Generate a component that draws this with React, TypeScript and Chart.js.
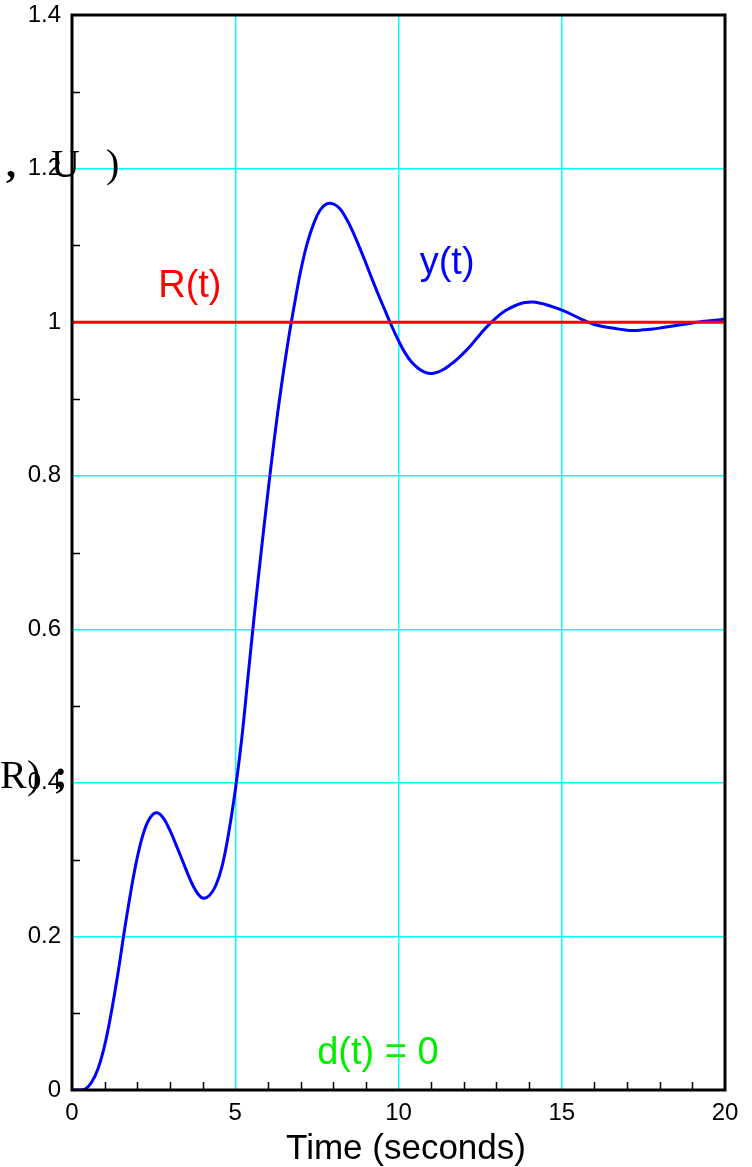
import React, { useEffect, useRef } from "react";
import { Chart, registerables } from "chart.js";

Chart.register(...registerables);

// ---- data ----
const timeSeconds = [0, 0.2, 0.4, 0.6, 0.8, 1.0, 1.2, 1.4, 1.6, 1.8, 2.0, 2.2, 2.4, 2.6, 2.8, 3.0, 3.2, 3.4, 3.6, 3.8, 4.0, 4.2, 4.4, 4.6, 4.8, 5.0, 5.2, 5.4, 5.6, 5.8, 6.0, 6.2, 6.4, 6.6, 6.8, 7.0, 7.2, 7.4, 7.6, 7.8, 8.0, 8.2, 8.4, 8.6, 8.8, 9.0, 9.2, 9.4, 9.6, 9.8, 10.0, 10.2, 10.4, 10.6, 10.8, 11.0, 11.2, 11.4, 11.6, 11.8, 12.0, 12.2, 12.4, 12.6, 12.8, 13.0, 13.2, 13.4, 13.6, 13.8, 14.0, 14.2, 14.5, 14.8, 15.1, 15.4, 15.7, 16.0, 16.3, 16.6, 16.9, 17.2, 17.5, 17.8, 18.1, 18.4, 18.7, 19.0, 19.3, 19.6, 20.0];
const outputY = [0, 0, 0.001, 0.01, 0.028, 0.058, 0.1, 0.15, 0.206, 0.258, 0.303, 0.336, 0.355, 0.361, 0.354, 0.338, 0.318, 0.297, 0.276, 0.259, 0.25, 0.253, 0.266, 0.292, 0.335, 0.39, 0.458, 0.542, 0.625, 0.703, 0.778, 0.849, 0.913, 0.97, 1.02, 1.066, 1.102, 1.128, 1.146, 1.154, 1.154, 1.148, 1.135, 1.118, 1.098, 1.077, 1.055, 1.034, 1.014, 0.994, 0.976, 0.96, 0.948, 0.94, 0.935, 0.933, 0.935, 0.939, 0.945, 0.952, 0.96, 0.969, 0.979, 0.989, 0.998, 1.006, 1.013, 1.018, 1.022, 1.025, 1.026, 1.026, 1.023, 1.019, 1.014, 1.008, 1.002, 0.997, 0.994, 0.992, 0.99, 0.989, 0.99, 0.991, 0.993, 0.995, 0.997, 0.999, 1.001, 1.002, 1.004];
const refTimes = [0, 20];
const refValues = [1, 1];
const distTimes = [0, 20];
const distValues = [0, 0];

const xMajorTicks = [0, 5, 10, 15, 20];
const yMajorTicks = [0, 0.2, 0.4, 0.6, 0.8, 1, 1.2, 1.4];
const xMinorTicks = [1, 2, 3, 4, 6, 7, 8, 9, 11, 12, 13, 14, 16, 17, 18, 19];
const yMinorTicks = [0.1, 0.3, 0.5, 0.7, 0.9, 1.1, 1.3];

const xTitle = "Time (seconds)";

const annotations = [
  { text: "R(t)", t: 3.61, v: 1.046, color: "#ff0000" },
  { text: "y(t)", t: 11.49, v: 1.076, color: "#0000ff" },
  { text: "d(t) = 0", t: 9.37, v: 0.048, color: "#00ee00" },
];

const strayGlyphs = [
  { text: ",", x: 6, y: 177, bold: true },
  { text: "U", x: 51, y: 177, bold: false },
  { text: ")", x: 106, y: 177, bold: false },
  { text: "R", x: 0, y: 788, bold: false },
  { text: ")", x: 27, y: 788, bold: false },
  { text: ";", x: 54, y: 788, bold: true },
];

const SANS = "'Liberation Sans', Arial, sans-serif";
const SERIF = "'Liberation Serif', 'Times New Roman', serif";
const GRID = "#00ffff";

const extrasPlugin = {
  id: "extras",
  afterDatasetsDraw(chart: any) {
    const { ctx, chartArea, scales } = chart;
    const xs = scales.x;
    const ys = scales.y;
    ctx.save();
    // minor ticks
    ctx.strokeStyle = "#000";
    ctx.lineWidth = 1.5;
    ctx.beginPath();
    xMinorTicks.forEach((t) => {
      const px = Math.round(xs.getPixelForValue(t)) + 0.5;
      ctx.moveTo(px, chartArea.bottom);
      ctx.lineTo(px, chartArea.bottom - 8);
    });
    yMinorTicks.forEach((v) => {
      const py = Math.round(ys.getPixelForValue(v)) + 0.5;
      ctx.moveTo(chartArea.left, py);
      ctx.lineTo(chartArea.left + 8, py);
    });
    ctx.stroke();
    // frame
    ctx.lineWidth = 3;
    ctx.strokeRect(chartArea.left, chartArea.top, chartArea.right - chartArea.left, chartArea.bottom - chartArea.top);
    // annotations
    ctx.font = `38px ${SANS}`;
    ctx.textAlign = "center";
    ctx.textBaseline = "middle";
    annotations.forEach((a) => {
      ctx.fillStyle = a.color;
      ctx.fillText(a.text, xs.getPixelForValue(a.t), ys.getPixelForValue(a.v));
    });
    // axis title
    ctx.fillStyle = "#000";
    ctx.font = `35px ${SANS}`;
    ctx.fillText(xTitle, 406, 1149);
    // stray glyphs
    ctx.textAlign = "left";
    ctx.textBaseline = "alphabetic";
    strayGlyphs.forEach((g) => {
      ctx.font = `${g.bold ? "bold " : ""}40px ${SERIF}`;
      ctx.fillText(g.text, g.x, g.y);
    });
    ctx.restore();
  },
};

export default function App() {
  const ref = useRef<HTMLCanvasElement | null>(null);
  useEffect(() => {
    if (!ref.current) return;
    const chart = new Chart(ref.current, {
      type: "line",
      data: {
        datasets: [
          {
            label: "R(t)",
            data: refTimes.map((t, i) => ({ x: t, y: refValues[i] })),
            borderColor: "#ff0000",
            borderWidth: 3,
            pointRadius: 0,
          },
          {
            label: "y(t)",
            data: timeSeconds.map((t, i) => ({ x: t, y: outputY[i] })),
            borderColor: "#0000ff",
            borderWidth: 3,
            pointRadius: 0,
            tension: 0.4,
          },
          {
            label: "d(t)",
            data: distTimes.map((t, i) => ({ x: t, y: distValues[i] })),
            borderColor: "#00dd00",
            borderWidth: 2,
            pointRadius: 0,
          },
        ],
      },
      options: {
        responsive: false,
        animation: false,
        layout: { padding: { top: 15, right: 27, left: 0, bottom: 0 } },
        plugins: { legend: { display: false }, tooltip: { enabled: false } },
        scales: {
          x: {
            type: "linear",
            min: 0,
            max: 20,
            afterFit: (s: any) => { s.height = 77; s.paddingLeft = 0; s.paddingRight = 0; },
            afterBuildTicks: (s: any) => { s.ticks = xMajorTicks.map((v) => ({ value: v })); },
            ticks: {
              color: "#000",
              font: { family: SANS, size: 24 },
              padding: 9,
              maxRotation: 0,
              callback: (v: any) => String(v),
            },
            grid: {
              drawTicks: false,
              lineWidth: 1.5,
              color: (c: any) => (c.tick && (c.tick.value === 0 || c.tick.value === 20) ? "rgba(0,0,0,0)" : GRID),
            },
            border: { display: false },
          },
          y: {
            type: "linear",
            min: 0,
            max: 1.4,
            afterFit: (s: any) => { s.width = 72; s.paddingTop = 0; s.paddingBottom = 0; },
            afterBuildTicks: (s: any) => { s.ticks = yMajorTicks.map((v) => ({ value: v })); },
            ticks: {
              color: "#000",
              font: { family: SANS, size: 24 },
              padding: 11,
              callback: (v: any) => String(Math.round(v * 10) / 10),
            },
            grid: {
              drawTicks: false,
              lineWidth: 1.5,
              color: (c: any) => (c.tick && (c.tick.value === 0 || c.tick.value === 1.4) ? "rgba(0,0,0,0)" : GRID),
            },
            border: { display: false },
          },
        },
      },
      plugins: [extrasPlugin],
    } as any);
    return () => chart.destroy();
  }, []);
  return (
    <div style={{ position: "fixed", left: 0, top: 0, width: 752, height: 1167, background: "#fff" }}>
      <canvas ref={ref} width={752} height={1167} style={{ display: "block" }} />
    </div>
  );
}
